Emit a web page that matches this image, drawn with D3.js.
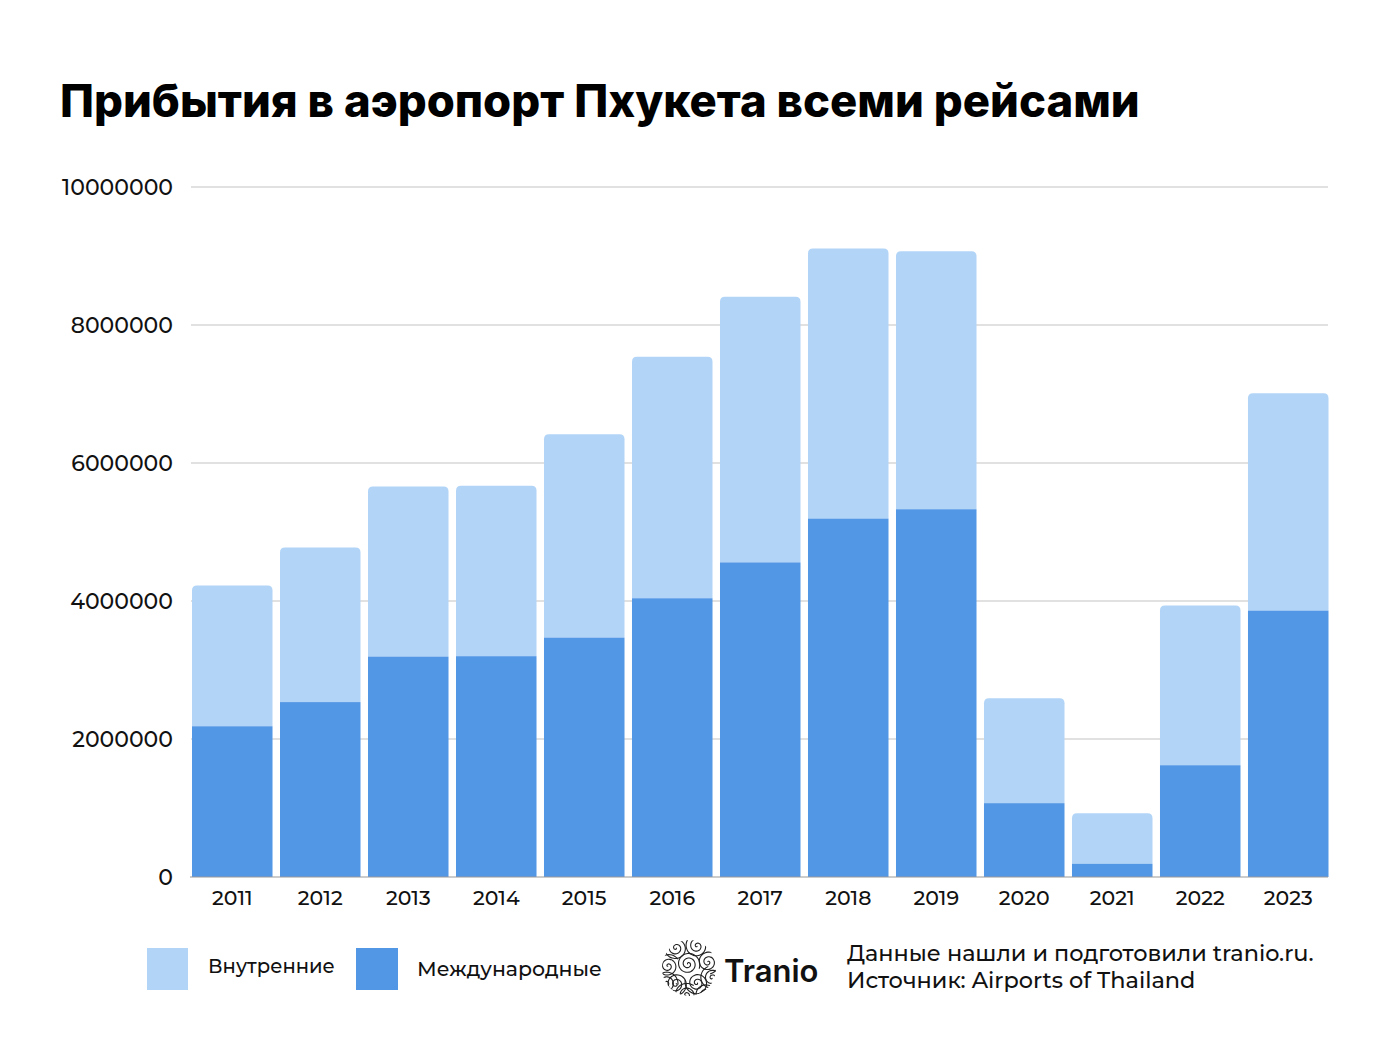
<!DOCTYPE html>
<html><head><meta charset="utf-8">
<script src="https://cdn.jsdelivr.net/npm/d3@7"></script>
<style>
html,body{margin:0;padding:0;background:#fff;}
svg{display:block;}
</style>
</head><body>
<svg id="chart" width="1386" height="1040"></svg>
<script>
const years = ["2011","2012","2013","2014","2015","2016","2017","2018","2019","2020","2021","2022","2023"];
const international = [2185000,2535000,3195000,3200000,3470000,4040000,4560000,5195000,5330000,1070000,190000,1620000,3860000];
const totals = [4225000,4775000,5660000,5670000,6415000,7540000,8410000,9110000,9070000,2590000,925000,3935000,7010000];
const domestic = totals.map((t,i)=>t-international[i]);
const yTicks = [0,2000000,4000000,6000000,8000000,10000000];
const seriesNames = ["Внутренние","Международные"];
const colors = {dom:"#b2d4f7", intl:"#5297e6"};

const svg = d3.select("#chart");
const font = "Montserrat, Inter, 'Noto Sans', sans-serif";

function fitText(sel, width){
  const fs = +sel.attr("font-size");
  const l = sel.node().getComputedTextLength();
  sel.attr("font-size", fs*width/l);
}

// Title
const title = svg.append("text").attr("x",60).attr("y",117)
  .attr("font-family","Inter, sans-serif").attr("font-weight",800)
  .attr("font-size",46).attr("fill","#000")
  .text("Прибытия в аэропорт Пхукета всеми рейсами");
fitText(title,1080);

const x = d3.scaleBand().domain(years).range([192,1328.5]).paddingInner(0.085).paddingOuter(0);
const y = d3.scaleLinear().domain([0,10000000]).range([877,187]);

// gridlines
svg.append("g").selectAll("line").data(yTicks.slice(1)).join("line")
  .attr("x1",191).attr("x2",1328).attr("y1",d=>y(d)).attr("y2",d=>y(d))
  .attr("stroke","#c4c4c4").attr("stroke-width",1.2);

// y axis labels
const yAxis = d3.axisLeft(y).tickValues(yTicks).tickFormat(d=>String(d)).tickSize(0).tickPadding(0);
const yg = svg.append("g").attr("transform","translate(173,0)").call(yAxis);
yg.select(".domain").remove();
yg.selectAll("text").attr("font-family",font).attr("font-weight",500).attr("font-size",20).attr("fill","#111").attr("dy","0.35em");
{
  const t = yg.selectAll("text").filter(d=>d===10000000);
  const l = t.node().getComputedTextLength();
  yg.selectAll("text").attr("font-size", 20*111/l);
}

// bars
const r = 5;
function topRounded(x0,y0,w,h,rad){
  rad=Math.min(rad,h);
  return `M${x0},${y0+h}V${y0+rad}Q${x0},${y0} ${x0+rad},${y0}H${x0+w-rad}Q${x0+w},${y0} ${x0+w},${y0+rad}V${y0+h}Z`;
}
const bars = svg.append("g");
years.forEach((yr,i)=>{
  const bx = x(yr), bw = x.bandwidth();
  const yTop = y(international[i]+domestic[i]);
  const yMid = y(international[i]);
  bars.append("path").attr("d",topRounded(bx,yTop,bw,yMid-yTop,r)).attr("fill",colors.dom);
  bars.append("rect").attr("x",bx).attr("y",yMid).attr("width",bw).attr("height",y(0)-yMid).attr("fill",colors.intl);
});

// baseline
svg.append("line").attr("x1",190).attr("x2",1328).attr("y1",y(0)).attr("y2",y(0))
  .attr("stroke","#9a9a9a").attr("stroke-width",1.2);

// x axis
const xAxis = d3.axisBottom(x).tickSize(0).tickPadding(0);
const xg = svg.append("g").attr("transform",`translate(0,${y(0)})`).call(xAxis);
xg.select(".domain").remove();
xg.selectAll("text").attr("font-family",font).attr("font-weight",500).attr("font-size",20.5).attr("fill","#111").attr("dy","0").attr("y",28);

// legend
const leg = svg.append("g");
leg.append("rect").attr("x",147).attr("y",948).attr("width",41).attr("height",42).attr("fill",colors.dom);
const l1 = leg.append("text").attr("x",208).attr("y",973).attr("font-family",font).attr("font-weight",500).attr("font-size",20).attr("fill","#111").text(seriesNames[0]);
fitText(l1,127);
leg.append("rect").attr("x",356).attr("y",948).attr("width",42).attr("height",42).attr("fill",colors.intl);
const l2 = leg.append("text").attr("x",417).attr("y",976).attr("font-family",font).attr("font-weight",500).attr("font-size",20).attr("fill","#111").text(seriesNames[1]);
fitText(l2,185);

// logo
const logo = svg.append("g");
const defs = svg.append("defs");
defs.append("clipPath").attr("id","lc").append("ellipse").attr("cx",689).attr("cy",968).attr("rx",27).attr("ry",28);
const lg = logo.append("g").attr("clip-path","url(#lc)");
const centers = [[676,948],[697,946],[668,966],[688,964],[708,962],[676,984],[697,983],[712,978],[686,995],[666,983],[705,995]];
const spiral = d3.line().curve(d3.curveBasis);
centers.forEach(([cx,cy],k)=>{
  const pts=[];
  for(let t=0;t<=5.2*Math.PI;t+=0.25){ const rr=0.75*t; pts.push([cx+rr*Math.cos(t+k),cy+rr*Math.sin(t+k)]); }
  lg.append("path").attr("d",spiral(pts)).attr("fill","none").attr("stroke","#222").attr("stroke-width",1.1);
});
logo.append("text").attr("x",724).attr("y",982).attr("font-family","Inter, sans-serif").attr("font-weight",600)
  .attr("font-size",31).attr("fill","#111").text("Tranio");

// source
const s1 = svg.append("text").attr("x",847).attr("y",961).attr("font-family",font).attr("font-weight",500).attr("font-size",22).attr("fill","#111")
  .text("Данные нашли и подготовили tranio.ru.");
fitText(s1,467);
const s2 = svg.append("text").attr("x",847).attr("y",988).attr("font-family",font).attr("font-weight",500).attr("font-size",+s1.attr("font-size")).attr("fill","#111")
  .text("Источник: Airports of Thailand");
</script>
</body></html>
